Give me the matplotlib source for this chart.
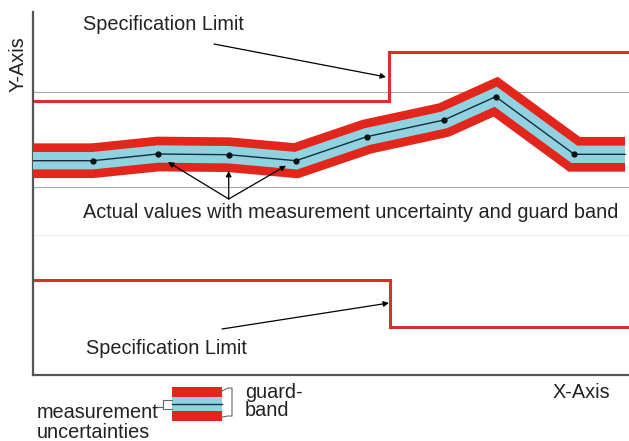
import matplotlib
matplotlib.use("Agg")
import matplotlib.pyplot as plt
from matplotlib.patches import Rectangle

plt.rcParams['font.family'] = ['Liberation Sans', 'DejaVu Sans']

# measured values (x, y in chart units)
meas_x = [0, 59.7, 125, 195.7, 263, 333.7, 411, 462.7, 541.3, 592]
meas_y = [214.3, 214.3, 221, 220.3, 214.3, 238.3, 255, 278.3, 220.7, 220.7]
dot_x = meas_x[1:-1]
dot_y = meas_y[1:-1]

# specification limits (step lines)
upper_x = [0, 356, 356, 596]
upper_y = [274, 274, 323, 323]
lower_x = [0, 357, 357, 596]
lower_y = [95, 95, 48.3, 48.3]

# grid lines
grid_dark = [283, 188]
grid_light = [140]

RED = '#e3261c'
CYAN = '#90d2df'
SPEC = '#d8302a'

fig = plt.figure(figsize=(6.29, 4.41), dpi=100)
ax = fig.add_axes([33 / 629, 66 / 441, 596 / 629, 363 / 441])
ax.set_xlim(0, 596)
ax.set_ylim(0, 363)
ax.set_xticks([])
ax.set_yticks([])
for s in ['top', 'right']:
    ax.spines[s].set_visible(False)
for s in ['left', 'bottom']:
    ax.spines[s].set_color('#555555')
    ax.spines[s].set_linewidth(1.6)

for g in grid_dark:
    ax.axhline(g, color='#a8a8a8', lw=0.8, zorder=1)
for g in grid_light:
    ax.axhline(g, color='#ececec', lw=0.8, zorder=1)

ax.plot(upper_x, upper_y, color=SPEC, lw=2.2, zorder=2, solid_joinstyle='miter')
ax.plot(lower_x, lower_y, color=SPEC, lw=2.2, zorder=2, solid_joinstyle='miter')

# band: guard band, uncertainty, value line
ax.plot(meas_x, meas_y, color=RED, lw=25, solid_capstyle='butt',
        solid_joinstyle='miter', zorder=3)
ax.plot(meas_x, meas_y, color=CYAN, lw=12.5, solid_capstyle='butt',
        solid_joinstyle='miter', zorder=4)
ax.plot(meas_x, meas_y, color='#1d2b3a', lw=1.0, zorder=5)
ax.plot(dot_x, dot_y, 'o', color='#111111', ms=3.5, zorder=6)

fs = 14.3
ax.text(50, 350, 'Specification Limit', fontsize=fs, va='center', color='#222222')
ax.text(53, 27, 'Specification Limit', fontsize=fs, va='center', color='#222222')
ax.text(50, 162, 'Actual values with measurement uncertainty and guard band',
        fontsize=fs, va='center', color='#222222')

arr = dict(arrowstyle='-|>', color='black', lw=0.9, mutation_scale=8,
           shrinkA=0, shrinkB=0)
ax.annotate('', xy=(353, 298), xytext=(181, 331), arrowprops=arr, zorder=7)
ax.annotate('', xy=(356, 72), xytext=(189, 46), arrowprops=arr, zorder=7)
for tx, ty in [(135, 213), (195.7, 204), (253, 209.3)]:
    ax.annotate('', xy=(tx, ty), xytext=(195.7, 176), arrowprops=arr, zorder=7)

fig.text(18 / 629, 1 - 64 / 441, 'Y-Axis', rotation=90, fontsize=fs,
         ha='center', va='center', color='#222222')
fig.text(581 / 629, 1 - 392 / 441, 'X-Axis', fontsize=fs,
         ha='center', va='center', color='#222222')

# legend below the axis
leg = [(-12, -22, RED), (-22, -36, CYAN), (-36, -46, RED)]
for top, bot, c in leg:
    ax.add_patch(Rectangle((139, bot), 50, top - bot, color=c, clip_on=False, lw=0))
ax.plot([139, 189], [-29, -29], color='#1d2b3a', lw=1.0, clip_on=False)
gray = dict(color='#666666', lw=0.8, clip_on=False)
ax.plot([189, 195, 199, 199, 195, 189], [-16, -13, -13, -41, -41, -42], **gray)
ax.plot([139, 130, 130, 139], [-25, -25, -34, -34], **gray)
ax.plot([124, 130], [-32, -32], **gray)
ax.text(212, -18, 'guard-', fontsize=fs, va='center', color='#222222', clip_on=False)
ax.text(212, -36, 'band', fontsize=fs, va='center', color='#222222', clip_on=False)
ax.text(4, -37, 'measurement', fontsize=fs, va='center', color='#222222', clip_on=False)
ax.text(4, -57, 'uncertainties', fontsize=fs, va='center', color='#222222', clip_on=False)

fig.savefig('out.png', dpi=100)
